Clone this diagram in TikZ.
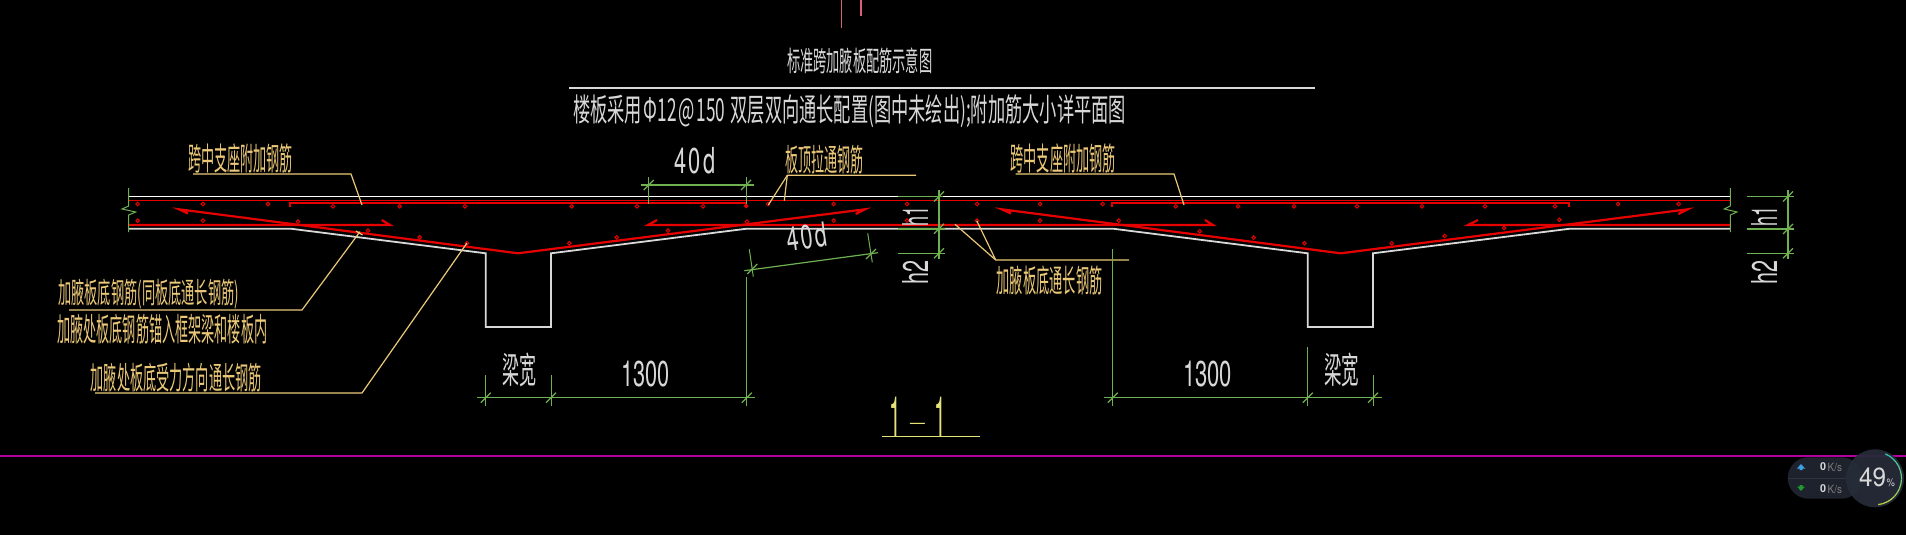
\documentclass[tikz,border=0pt]{standalone}
\usepackage{fontspec}
\usepackage{graphicx}
\newfontfamily\cjk{Noto Sans CJK SC}
\newfontfamily\lat{TeX Gyre Heros}
\newdimen\pxu \pxu=0.5pt
\definecolor{cadred}{HTML}{E60000}
\definecolor{cadgreen}{HTML}{6FB050}
\definecolor{cadyel}{HTML}{EBC877}
\definecolor{cadgray}{HTML}{D8D8D8}
\definecolor{cadmag}{HTML}{B000A0}
\definecolor{cadone}{HTML}{E6E27A}
\definecolor{pinkline}{HTML}{D86070}
\definecolor{pill}{HTML}{1E222D}
\definecolor{pillline}{HTML}{2E3340}
\definecolor{dial}{HTML}{272C39}
\definecolor{arcteal}{HTML}{35C8B0}
\definecolor{arclime}{HTML}{C4D43E}
\definecolor{upblue}{HTML}{3C9FE0}
\definecolor{downgreen}{HTML}{1E9A30}
\newcommand\Tx[7]{\pgfmathsetmacro\myw{#5-#3}\pgfmathsetmacro\myh{#6-#4}%
  \node[lbl,text=#2,anchor=south west] (#1) at (#3,#6) {\resizebox{\myw\pxu}{\myh\pxu}{\raisebox{\depth}{#7}}};}
\newcommand\Rx[8]{\node[lbl,text=#2,rotate=#5] (#1) at (#3,#4) {\resizebox{#6\pxu}{#7\pxu}{\raisebox{\depth}{#8}}};}
\newcommand\tick[2]{\draw[dim] ({#1-5},{#2+5}) -- ({#1+5},{#2-5});}
\tikzset{
  lbl/.style={inner sep=0pt,outer sep=0pt},
  dim/.style={cadgreen,line width=0.6pt},
  dimthin/.style={cadgreen,line width=0.5pt},
  leader/.style={cadyel,line width=0.6pt},
  outline/.style={cadgray,line width=0.9pt,line join=miter},
  bar/.style={cadred,line width=1.1pt,line join=miter},
  barthin/.style={cadred,line width=0.8pt},
  dot/.style={cadred,line width=0.5pt},
}
\begin{document}
\begin{tikzpicture}[x=0.5pt,y=-0.5pt]
\fill[black] (0,0) rectangle (1906,535);
\useasboundingbox (0,0) rectangle (1906,535);
% top fragments
\draw[pinkline,line width=0.5pt] (841.6,0) -- (841.6,27.7);
\draw[pinkline,line width=0.6pt] (861,0) -- (861,15.7);
% title
\Tx{title}{cadgray}{787}{48}{932.4}{74}{\cjk 标准跨加腋板配筋示意图}
\draw[cadgray,line width=0.8pt] (569,88) -- (1315,88);
\Tx{subtitle}{cadgray}{573}{95}{1126}{128}{\cjk 楼板采用\hspace{.12em}Φ12\hspace{.1em}@\hspace{.1em}150\hspace{.3em}双层双向通长配置(图中未绘出);附加筋大小详平面图}
% slab outline
\draw[white,line width=0.7pt] (129,196.5) -- (1730,196.5);
\draw[outline] (129,228.7) -- (290.7,228.7) -- (485.7,253.3) -- (485.7,327) -- (551,327) -- (551,253.3) -- (746.7,228.7) -- (1113,228.7) -- (1307.7,253.3) -- (1307.7,327) -- (1373,327) -- (1373,253.3) -- (1570,228.7) -- (1730,228.7);
% top rebar
\draw[barthin] (129,200.3) -- (1730,200.3);
\draw[bar] (289.7,207) -- (289.7,202.7) -- (746,202.7) -- (746,207);
\draw[bar] (1112,207) -- (1112,202.7) -- (1568.7,202.7) -- (1568.7,207);
% bottom flat rebar
\draw[bar] (129,225) -- (390,225) -- (381.7,220);
\draw[bar] (657,220) -- (648,225) -- (1213,225) -- (1205,220);
\draw[bar] (1478,220) -- (1468,225) -- (1730,225);
% bent rebar
\draw[bar] (188,213.5) -- (179,209.3) -- (518,253.3) -- (865,209.3) -- (855.7,214);
\draw[bar] (1011,213.5) -- (1001.7,209.3) -- (1340.7,253.3) -- (1687.7,209.3) -- (1678.3,214);
% rebar dots
\foreach \x/\y in {137.7/204,203/204,268/204,333/206.3,399.7/206.3,465/206.3,571.7/206.3,637/206.3,703/206.3,746/206,768/204,833.7/204,907/204,977/204,1040/204,1102.7/204,1175.7/206.3,1238/206.3,1294/206.3,1357/206.3,1422/206.3,1485/206.3,1555/206.3,1618/204,1678.7/204,
137.7/220.7,203/220.7,298/221.7,368/230.7,419.7/237.3,467/243.3,569.3/243.3,616.7/237.3,668/230.7,747/221.7,833.7/220.7,907/220.7,977/220.7,1040/220.7,1118.7/220.7,1199.7/231.3,1253.7/237.7,1304.3/243.3,1391.7/243.3,1444.7/236,1504/228,1559.3/219.7}
  \draw[dot] (\x,\y) circle[radius=1.8];
% break lines
\draw[dimthin] (128.7,188) -- (128.7,206) -- (122,209) -- (135.7,212) -- (128.7,215) -- (128.7,232);
\draw[dimthin] (1730.3,188) -- (1730.3,206) -- (1724.3,209) -- (1737,212) -- (1730.3,215) -- (1730.3,232);
% leaders and labels
\Tx{la}{cadyel}{188}{144}{293}{173.5}{\cjk 跨中支座附加钢筋}
\draw[leader] (193,174) -- (351,174) -- (362,205);
\Tx{lb}{cadyel}{58.3}{279.3}{239}{309.3}{\cjk 加腋板底钢筋(同板底通长钢筋)}
\draw[leader] (69,310) -- (302,310) -- (360,231.7);
\draw[leader] (356,231) -- (362.5,235);
\Tx{lc}{cadyel}{57.3}{314}{267.3}{344}{\cjk 加腋处板底钢筋锚入框架梁和楼板内}
\Tx{ld}{cadyel}{90.7}{363.3}{261.7}{392.3}{\cjk 加腋处板底受力方向通长钢筋}
\draw[leader] (95,393) -- (362,393) -- (467,243);
\Tx{le}{cadyel}{785.7}{145}{864}{174}{\cjk 板顶拉通钢筋}
\draw[leader] (916,175.3) -- (787.3,175.3) -- (768.3,205);
\draw[leader] (787.3,175.3) -- (784.3,200.7);
\Tx{lf}{cadyel}{996.7}{265.7}{1102.5}{295}{\cjk 加腋板底通长钢筋}
\draw[leader] (1129,260) -- (995.7,260) -- (955,224.3);
\draw[leader] (995.7,260) -- (976.7,220.7);
\Tx{lg}{cadyel}{1010.7}{144}{1115.7}{173.5}{\cjk 跨中支座附加钢筋}
\draw[leader] (1015.7,174) -- (1174,174) -- (1184,205);
% dimensions: 40d top
\draw[dim] (640.7,185) -- (754,185);
\draw[dimthin] (648.7,177.3) -- (648.7,204);
\draw[dimthin] (746,177.3) -- (746,204);
\tick{648.7}{185}\tick{746}{185}
\Tx{da}{cadgray}{674}{147.3}{715.7}{174}{\lat 4\hspace{.12em}0\hspace{.12em}d}
% 40d slanted
\draw[dim] (744.3,270.7) -- (878,252.7);
\draw[dimthin] (749.3,249.3) -- (753.3,276.7);
\draw[dimthin] (867.7,233.3) -- (872.3,262.3);
\tick{752.3}{269}\tick{871}{254}
\Rx{db}{cadgray}{806.7}{236.7}{7.7}{41}{25}{\lat 4\hspace{.12em}0\hspace{.12em}d}
% 1300 / beam width left
\draw[dim] (477,397.7) -- (755,397.7);
\draw[dimthin] (485.7,375) -- (485.7,406);
\draw[dimthin] (551,375) -- (551,406);
\draw[dimthin] (746.7,276.7) -- (746.7,406);
\tick{485.7}{397.7}\tick{551}{397.7}\tick{746.7}{397.7}
\Tx{dc}{cadgray}{502}{353}{536}{387}{\cjk 梁宽}
\Tx{dd}{cadgray}{621.7}{360.7}{670}{386.7}{\lat 1300}
% 1300 / beam width right
\draw[dim] (1104,397.7) -- (1381.7,397.7);
\draw[dimthin] (1112.7,249.3) -- (1112.7,406);
\draw[dimthin] (1307.7,347.3) -- (1307.7,406);
\draw[dimthin] (1373,375) -- (1373,406);
\tick{1112.7}{397.7}\tick{1307.7}{397.7}\tick{1373}{397.7}
\Tx{de}{cadgray}{1183}{360.7}{1232}{386.7}{\lat 1300}
\Tx{df}{cadgray}{1324}{353}{1359}{387}{\cjk 梁宽}
% h1 h2 middle
\draw[dim] (939,190) -- (939,259.3);
\draw[dimthin] (897.7,196.5) -- (943,196.5);
\draw[dim,line width=0.8pt] (897.7,228.7) -- (945,228.7);
\draw[dimthin] (897.7,253.3) -- (945,253.3);
\tick{939}{196.5}\tick{939}{228.7}\tick{939}{253.3}
\Rx{dg}{cadgray}{915}{216}{90}{20}{26}{\lat h1}
\Rx{dh}{cadgray}{915}{272}{90}{24}{26}{\lat h2}
% h1 h2 right
\draw[dim] (1788,190) -- (1788,259.3);
\draw[dimthin] (1746.7,196.5) -- (1794,196.5);
\draw[dim,line width=0.8pt] (1746.7,229) -- (1794,229);
\draw[dimthin] (1746.7,253.3) -- (1794,253.3);
\tick{1788}{196.5}\tick{1788}{229}\tick{1788}{253.3}
\Rx{di}{cadgray}{1764}{216}{90}{20}{26}{\lat h1}
\Rx{dj}{cadgray}{1764}{272.3}{90}{24}{26}{\lat h2}
% section mark
\draw[cadone,line width=0.7pt] (882.3,436.7) -- (980,436.7);
\Tx{sec}{cadone}{889}{397.3}{946}{436.7}{\lat 1\hspace{.3em}\raisebox{.15em}{\scalebox{3}[.3]{-}}\hspace{.3em}1}
% magenta line
\draw[cadmag,line width=0.85pt] (0,455.7) -- (1906,455.7);
% network widget
\fill[pill,rounded corners=10.3pt] (1787.7,457.3) rectangle (1862,498.7);
\draw[pillline,line width=0.4pt] (1788,478) -- (1850,478);
\fill[dial,opacity=0.93] (1875,478.3) circle[radius=29];
\foreach \a/\c in {67/100,57/95,47/90,37/82,27/74,17/66,7/58,-3/50,-13/42,-23/34,-33/26,-43/18,-53/12,-63/6,-73/0}
  \draw[color=arcteal!\c!arclime,line width=0.6pt]
    ({1875+26.5*cos(\a)},{478.3-26.5*sin(\a)}) -- ({1875+26.5*cos(\a-10)},{478.3-26.5*sin(\a-10)});
\Tx{wa}{cadgray}{1859}{468}{1886}{487}{\lat 49}
\Tx{wb}{cadgray}{1886.7}{479}{1895}{487}{\lat\%}
\Tx{wc}{cadgray}{1820}{463}{1826}{471}{\lat\bfseries 0}
\Tx{wd}{gray}{1827.7}{463.5}{1842}{472}{\lat K/s}
\Tx{we}{cadgray}{1820}{485}{1826}{493}{\lat\bfseries 0}
\Tx{wf}{gray}{1827.7}{485.5}{1842}{494}{\lat K/s}
\fill[upblue] (1801,464) -- (1805,468.5) -- (1802.5,468.5) -- (1802.5,470) -- (1799.5,470) -- (1799.5,468.5) -- (1797,468.5) -- cycle;
\fill[downgreen] (1801,491) -- (1805,486.5) -- (1802.5,486.5) -- (1802.5,485) -- (1799.5,485) -- (1799.5,486.5) -- (1797,486.5) -- cycle;
\end{tikzpicture}
\end{document}
